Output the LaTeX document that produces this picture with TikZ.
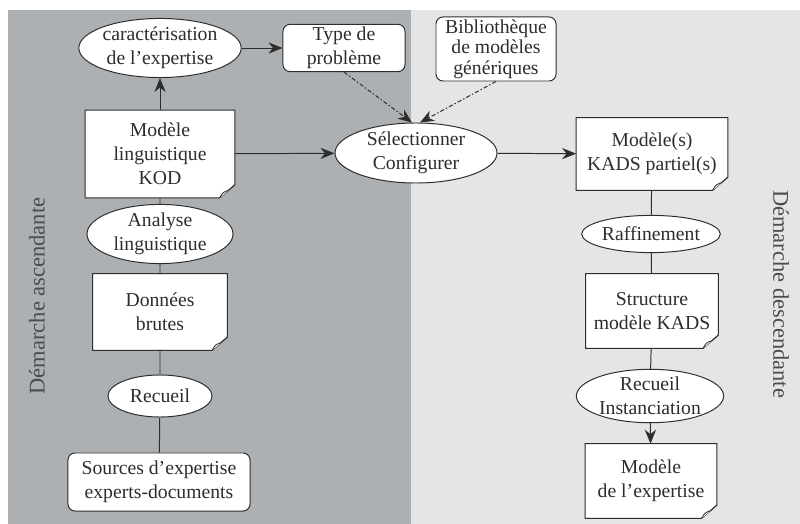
\documentclass[tikz,border=0pt]{standalone}
\usepackage{fontspec}
\setmainfont{Liberation Serif}
\usepackage{tikz}
\usetikzlibrary{positioning}
\usetikzlibrary{shapes.geometric}
\usetikzlibrary{arrows.meta}
\definecolor{darkpanel}{RGB}{172,176,179}
\definecolor{lightpanel}{RGB}{227,229,231}
\definecolor{ink}{RGB}{45,45,45}
\pgfdeclarelayer{panels}
\pgfdeclarelayer{pages}
\pgfsetlayers{panels,pages,main}

\begin{document}
\begin{tikzpicture}[x=0.025cm,y=-0.025cm,
    every node/.style={font=\fontsize{14}{17}\selectfont,text=ink,align=center,inner sep=0pt},
    oval/.style={ellipse,draw=ink,fill=white,line width=0.7pt},
    tag/.style={rectangle,rounded corners=5pt,draw=ink,fill=white,line width=0.7pt},
    page/.style={rectangle},
    flow/.style={draw=ink,line width=0.7pt},
    arr/.style={flow,-{Stealth[length=10pt,width=8pt]}},
    dashdot/.style={arr,dash pattern=on 3pt off 1.5pt on 1pt off 1.5pt},
    side/.style={font=\fontsize{16}{19}\selectfont,text=ink!85}]
    \useasboundingbox (0,0) rectangle (800,524);
    \begin{pgfonlayer}{panels}
        \fill[white] (0,0) rectangle (800,524);
        \fill[darkpanel] (8,10) rectangle (411,524);
        \fill[lightpanel] (411,10) rectangle (800,524);
    \end{pgfonlayer}

    % haut
    \node[oval,minimum width=3.95cm,minimum height=1.05cm] (caract) at (160,48) {caractérisation\\de l’expertise};
    \node[tag,minimum width=3.05cm,minimum height=1.18cm] (type) at (344,48) {Type de\\problème};
    \node[tag,minimum width=3.0cm,minimum height=1.6cm,font=\fontsize{14}{14.5}\selectfont] (biblio) at (496,49) {Bibliothèque\\de modèles\\génériques};
    \node[oval,minimum width=4.05cm,minimum height=1.5cm] (select) at (416,153) {Sélectionner\\Configurer};

    % demarche ascendante
    \node[page,minimum width=3.73cm,minimum height=2.18cm] (kod) at (160,154) {Modèle\\linguistique\\KOD};
    \node[oval,minimum width=3.65cm,minimum height=1.2cm] (analyse) at (160,234) {Analyse\\linguistique};
    \node[page,minimum width=3.35cm,minimum height=1.9cm] (brutes) at (160,312) {Données\\brutes};
    \node[oval,minimum width=2.6cm,minimum height=1.05cm] (recueil) at (160,396) {Recueil};
    \node[tag,minimum width=4.55cm,minimum height=1.45cm] (sources) at (159,482) {Sources d’expertise\\experts-documents};

    % demarche descendante
    \node[page,minimum width=3.78cm,minimum height=1.8cm] (kads) at (652,154) {Modèle(s)\\KADS partiel(s)};
    \node[oval,minimum width=3.15cm,minimum height=0.93cm] (raffine) at (651,234) {Raffinement};
    \node[page,minimum width=3.3cm,minimum height=1.85cm] (struct) at (652,311) {Structure\\modèle KADS};
    \node[oval,minimum width=3.68cm,minimum height=0.95cm] (recinst) at (650,396) {Recueil\\Instanciation};
    \node[page,minimum width=3.28cm,minimum height=1.85cm] (expert) at (651,481) {Modèle\\de l’expertise};

    \node[side,rotate=90] (asc) at (37,296) {Démarche ascendante};
    \node[side,rotate=-90] (desc) at (781,294) {Démarche descendante};

    % feuilles a coin corne
    \begin{pgfonlayer}{pages}
        \foreach \n in {kod,brutes,kads,struct,expert}{
            \draw[flow,fill=white] (\n.north west) -- (\n.north east) -- ([yshift=0.33cm]\n.south east)
                -- ([xshift=-0.38cm]\n.south east) -- (\n.south west) -- cycle;
            \draw[flow,fill=white,line width=0.6pt] ([xshift=-0.38cm]\n.south east)
                .. controls ([xshift=-0.3cm,yshift=0.14cm]\n.south east) .. ([xshift=-0.16cm,yshift=0.19cm]\n.south east)
                -- ([yshift=0.33cm]\n.south east);
        }
    \end{pgfonlayer}

    % connecteurs
    \draw[arr] (kod) -- (caract);
    \draw[arr] (caract) -- (type);
    \draw[arr] (kod) -- (select);
    \draw[arr] (select) -- (kads);
    \draw[dashdot] (type.south) -- ([xshift=-0.1cm]select.north);
    \draw[dashdot] (biblio.south) -- ([xshift=0.1cm]select.north);
    \draw[flow] (kod) -- (analyse) -- (brutes) -- (recueil) -- (sources);
    \draw[flow] (kads) -- (raffine) -- (struct) -- (recinst);
    \draw[arr] (recinst) -- (expert);
\end{tikzpicture}
\end{document}
